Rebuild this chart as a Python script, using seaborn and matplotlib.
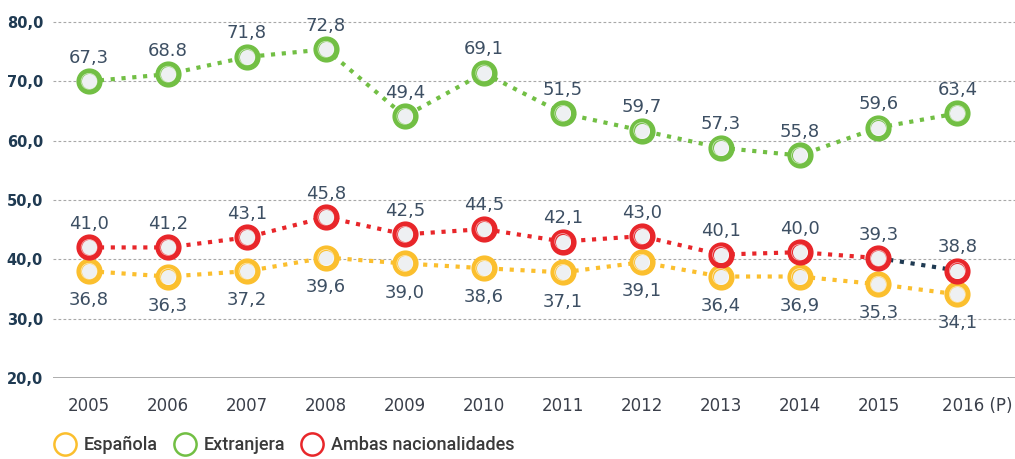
import matplotlib
matplotlib.use("Agg")
import matplotlib.pyplot as plt
from matplotlib.lines import Line2D
import matplotlib.transforms as mtransforms
import pandas as pd
import seaborn as sns

years = ["2005", "2006", "2007", "2008", "2009", "2010", "2011", "2012", "2013", "2014", "2015", "2016 (P)"]

# marker heights as drawn in the picture
espanola = [38.0, 37.1, 38.0, 40.3, 39.3, 38.5, 37.8, 39.5, 37.1, 37.1, 35.8, 34.1]
extranjera = [70.0, 71.2, 74.1, 75.4, 64.1, 71.4, 64.6, 61.7, 58.8, 57.5, 62.2, 64.6]
ambas = [42.0, 42.0, 43.7, 47.1, 44.2, 45.1, 43.0, 43.9, 40.8, 41.2, 40.2, 38.1]

# printed labels
espanola_lbl = ["36,8", "36,3", "37,2", "39,6", "39,0", "38,6", "37,1", "39,1", "36,4", "36,9", "35,3", "34,1"]
extranjera_lbl = ["67,3", "68.8", "71,8", "72,8", "49,4", "69,1", "51,5", "59,7", "57,3", "55,8", "59,6", "63,4"]
ambas_lbl = ["41,0", "41,2", "43,1", "45,8", "42,5", "44,5", "42,1", "43,0", "40,1", "40,0", "39,3", "38,8"]

series_names = ["Española", "Extranjera", "Ambas nacionalidades"]
y_ticks = [20, 30, 40, 50, 60, 70, 80]

YELLOW = "#fbbf2e"
GREEN = "#72bf44"
RED = "#e8262a"
NAVY = "#1f3a52"
FILL = "#eef0f2"

sns.set_theme(style="white")
plt.rcParams["font.family"] = ["DejaVu Sans"]

fig = plt.figure(figsize=(10.15, 4.59), dpi=100)
ax = fig.add_axes([0.052, 0.1765, 0.948, 0.8235])

x = list(range(len(years)))
df = pd.DataFrame({"x": x, "esp": espanola, "ext": extranjera, "amb": ambas})

for y in y_ticks[1:]:
    ax.axhline(y, color="#a8a8a8", lw=0.8, ls=(0, (2.5, 2)), zorder=0)
ax.axhline(20, color="#a0a0a0", lw=1.2, zorder=0)

dot = (0, (1, 1.6))
line_kw = dict(linewidth=3, legend=False, zorder=2)
sns.lineplot(data=df, x="x", y="esp", color=YELLOW, ax=ax, linestyle=dot, **line_kw)
sns.lineplot(data=df, x="x", y="ext", color=GREEN, ax=ax, linestyle=dot, **line_kw)
sns.lineplot(data=df.iloc[:11], x="x", y="amb", color=RED, ax=ax, linestyle=dot, **line_kw)
sns.lineplot(data=df.iloc[10:], x="x", y="amb", color=NAVY, ax=ax, linestyle=dot, **line_kw)

for col, color in [("esp", YELLOW), ("ext", GREEN), ("amb", RED)]:
    sns.scatterplot(data=df, x="x", y=col, ax=ax, s=220, color=FILL,
                    edgecolor=color, linewidth=4.0, zorder=3, legend=False)
    sns.scatterplot(data=df, x="x", y=col, ax=ax, s=130, color="none",
                    edgecolor="white", linewidth=0.6, alpha=0.6, zorder=4, legend=False)

lbl_color = "#3d4f63"
for i in x:
    ax.annotate(extranjera_lbl[i], (i, extranjera[i]), xytext=(0, 17), textcoords="offset points",
                ha="center", va="center", fontsize=13, color=lbl_color)
    ax.annotate(ambas_lbl[i], (i, ambas[i]), xytext=(0, 17), textcoords="offset points",
                ha="center", va="center", fontsize=13, color=lbl_color)
    ax.annotate(espanola_lbl[i], (i, espanola[i]), xytext=(0, -21), textcoords="offset points",
                ha="center", va="center", fontsize=13, color=lbl_color)

ax.set_xlim(-0.46, 11.73)
ax.set_ylim(20, 83.7)
ax.set_yticks(y_ticks)
ax.set_yticklabels([f"{v},0" for v in y_ticks], fontsize=10.5, fontweight="bold", color=NAVY)
ax.set_xticks(x)
ax.set_xticklabels(years, fontsize=12, color="#3a3f4a")
ax.tick_params(axis="x", length=0, pad=14)
ax.tick_params(axis="y", length=0, pad=7)
last = ax.get_xticklabels()[-1]
last.set_transform(last.get_transform() + mtransforms.ScaledTranslation(0.2, 0, fig.dpi_scale_trans))
for s in ax.spines.values():
    s.set_visible(False)
ax.set_xlabel("")
ax.set_ylabel("")
ax.patch.set_alpha(0)

handles = [Line2D([], [], marker="o", linestyle="none", markersize=16, markerfacecolor="white",
                  markeredgecolor=c, markeredgewidth=1.8) for c in (YELLOW, GREEN, RED)]
fig.legend(handles, series_names, loc="center left", bbox_to_anchor=(0.044, 0.03), ncol=3,
           frameon=False, labelcolor="#3a3a3a", handletextpad=0.45,
           columnspacing=0.9, borderpad=0, handlelength=1.2,
           prop={"family": "Roboto", "size": 13, "weight": "medium"})

fig.savefig("out.png", dpi=100)
